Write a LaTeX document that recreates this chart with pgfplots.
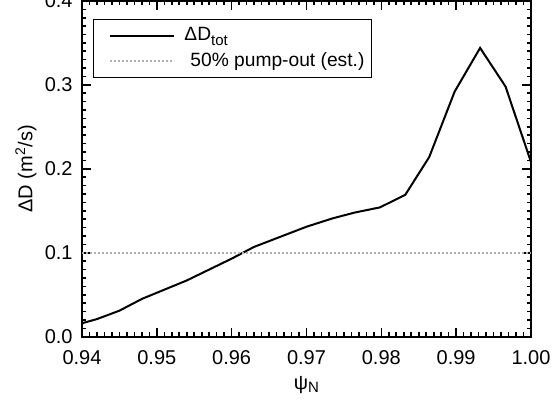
\documentclass[border=0pt]{standalone}
\usepackage{pgfplots}
\pgfplotsset{compat=1.18}
\usepackage{fontspec}
\setmainfont{Liberation Sans}
\definecolor{refgray}{RGB}{175,175,175}
\begin{document}
\fontsize{10}{12}\selectfont
\begin{tikzpicture}
\begin{axis}[
  at={(0,0)}, anchor=south west,
  scale only axis, width=224.5pt, height=167.9pt,
  xmin=0.94, xmax=1.0, ymin=0, ymax=0.4,
  xtick={0.94,0.95,0.96,0.97,0.98,0.99,1.00},
  ytick={0,0.1,0.2,0.3,0.4},
  minor tick num=9,
  scaled x ticks=false, scaled y ticks=false,
  tick align=inside,
  major tick length=4.5pt, minor tick length=2.2pt,
  every tick/.style={black, line width=0.8pt},
  axis line style={line width=1pt},
  tick label style={inner sep=0pt, font=\fontsize{10}{12}\selectfont},
  x tick label style={/pgf/number format/.cd, fixed, fixed zerofill, precision=2, assume math mode=true},
  y tick label style={/pgf/number format/.cd, fixed, fixed zerofill, precision=1, assume math mode=true},
  xticklabel shift=6.5pt,
  yticklabel shift=4.5pt,
  xlabel={ψ\raisebox{-0.35ex}{\fontsize{7.5}{8}\selectfont N}},
  ylabel={ΔD (m\textsuperscript{2}/s)},
  every axis x label/.style={at={(axis description cs:0.5,0)}, yshift=-24pt, anchor=center},
  every axis y label/.style={at={(axis description cs:0,0.5)}, xshift=-28pt, rotate=90, anchor=center},
  legend style={at={(axis description cs:0,1)}, anchor=north west, xshift=5.5pt, yshift=-9pt,
    draw=black, line width=0.5pt, inner xsep=2pt, inner ysep=2.5pt,
    nodes={inner sep=1.5pt}, column sep=3pt, row sep=1.5pt,
    font=\fontsize{9.6}{11.5}\selectfont},
  legend cell align=left,
  legend image code/.code={\path (0pt,0pt); \draw[#1] (6pt,0pt) -- (38pt,0pt);},
]
\addplot[black, line width=1pt] coordinates {
(0.9400,0.016)
(0.9420,0.021)
(0.9450,0.031)
(0.9480,0.045)
(0.9510,0.056)
(0.9540,0.067)
(0.9570,0.080)
(0.9600,0.093)
(0.9630,0.107)
(0.9665,0.119)
(0.9700,0.131)
(0.9735,0.141)
(0.9765,0.148)
(0.9798,0.154)
(0.9832,0.169)
(0.9864,0.214)
(0.9898,0.292)
(0.9932,0.344)
(0.9966,0.298)
(1.0000,0.208)
};
\addlegendentry{ΔD\raisebox{-0.45ex}{\fontsize{7.5}{8}\selectfont tot}}
\addplot[refgray, line width=0.8pt, dash pattern=on 0.8pt off 1.2pt] coordinates {(0.94,0.1) (1.0,0.1)};
\addlegendentry{\hspace{3pt}50\% pump-out (est.)}
\end{axis}
\pgfresetboundingbox
\path (-41pt,-33.65pt) rectangle ++(277pt,202pt);
\end{tikzpicture}
\end{document}
